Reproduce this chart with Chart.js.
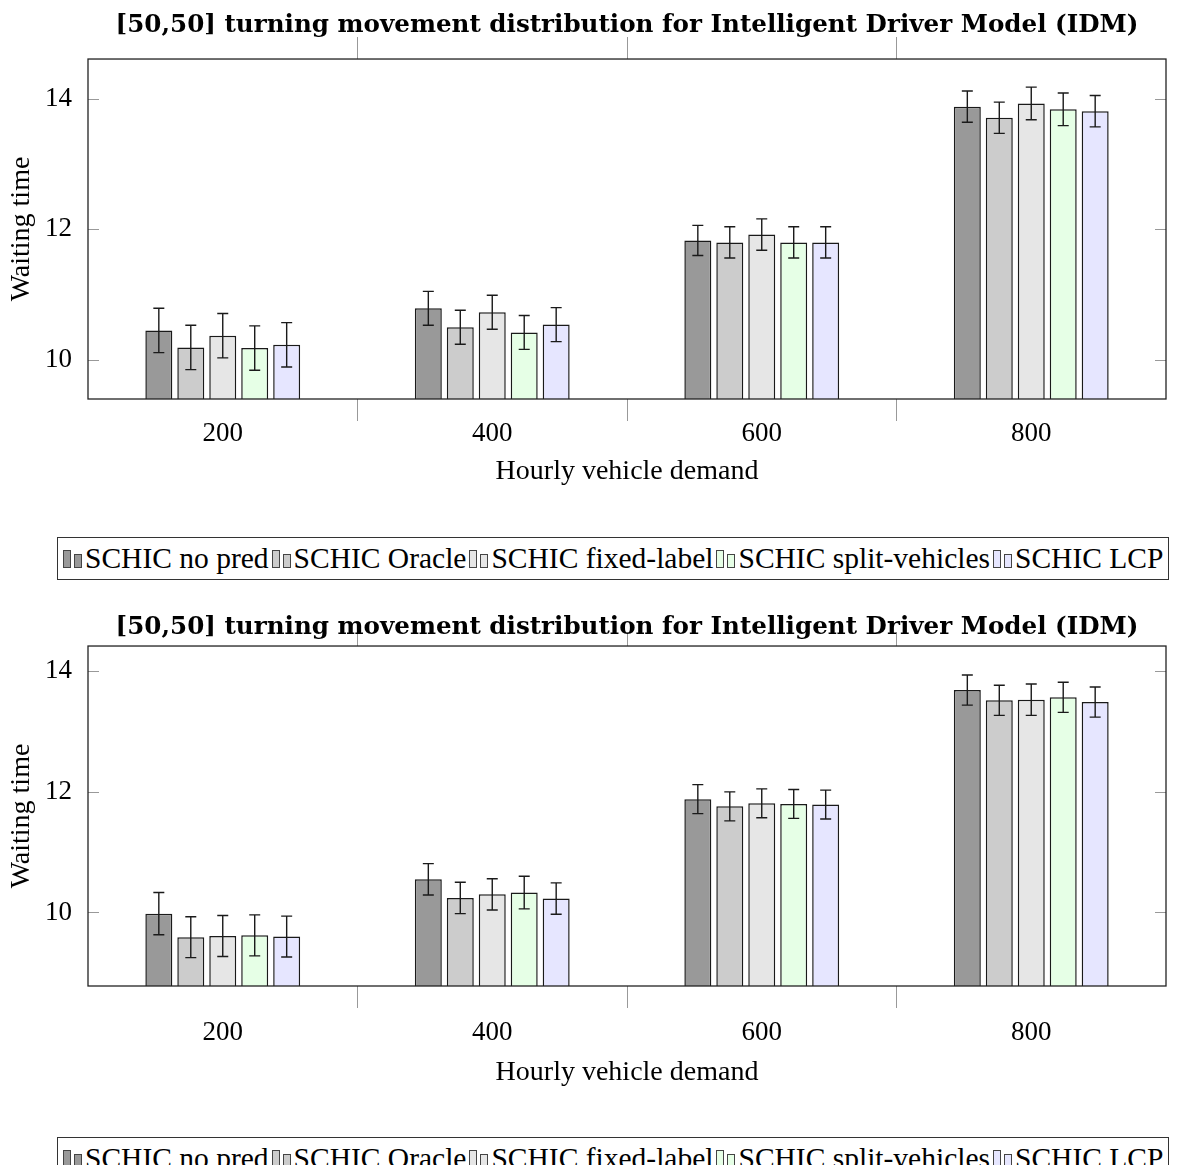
<!DOCTYPE html>
<html>
<head>
<meta charset="utf-8">
<script src="https://cdn.jsdelivr.net/npm/chart.js@4.4.1/dist/chart.umd.min.js"></script>
<style>
    body { margin: 0; background: #fff; }
    #page { position: relative; width: 1196px; height: 1165px; overflow: hidden; }
    canvas { position: absolute; left: 0; }
    #c1 { top: 0; }
    #c2 { top: 600px; }
    .legend {
        position: absolute;
        left: 57px;
        border: 1px solid #333;
        padding: 4px 5px 5px 5px;
        font: 29.5px "Liberation Serif", serif;
        white-space: nowrap;
        line-height: 32px;
    }
    #legend1 { top: 537px; }
    #legend2 { top: 1137px; }
    .sw {
        display: inline-block;
        width: 6px;
        height: 16px;
        border: 1px solid #444;
        margin-right: 3px;
    }
    .sw.small { height: 12px; }
    .item + .item { margin-left: 3px; }
</style>
</head>
<body>
<div id="page">
    <canvas id="c1" width="1196" height="500"></canvas>
    <div class="legend" id="legend1"></div>
    <canvas id="c2" width="1196" height="500"></canvas>
    <div class="legend" id="legend2"></div>
</div>
<script>
// Categories and series
const demandLabels = ['200', '400', '600', '800'];
const seriesNames = ['SCHIC no pred', 'SCHIC Oracle', 'SCHIC fixed-label', 'SCHIC split-vehicles', 'SCHIC LCP'];
const seriesColors = ['#999999', '#cccccc', '#e6e6e6', '#e6ffe6', '#e6e6ff'];
const yTicks = [10, 12, 14];
const chartTitle = '[50,50] turning movement distribution for Intelligent Driver Model (IDM)';

// Upper plot: mean waiting time and error
const noPredA = [10.45, 10.79, 11.83, 13.88];
const oracleA = [10.19, 10.50, 11.80, 13.71];
const fixedA = [10.37, 10.73, 11.92, 13.93];
const splitA = [10.18, 10.42, 11.80, 13.84];
const lcpA = [10.23, 10.54, 11.80, 13.81];
const noPredAErr = [0.34, 0.26, 0.23, 0.24];
const oracleAErr = [0.34, 0.26, 0.24, 0.24];
const fixedAErr = [0.34, 0.26, 0.24, 0.25];
const splitAErr = [0.34, 0.26, 0.24, 0.25];
const lcpAErr = [0.34, 0.26, 0.24, 0.24];

// Lower plot
const noPredB = [9.98, 10.55, 11.88, 13.69];
const oracleB = [9.59, 10.24, 11.76, 13.52];
const fixedB = [9.61, 10.30, 11.81, 13.53];
const splitB = [9.62, 10.33, 11.80, 13.57];
const lcpB = [9.60, 10.23, 11.79, 13.49];
const noPredBErr = [0.35, 0.26, 0.24, 0.25];
const oracleBErr = [0.34, 0.26, 0.24, 0.25];
const fixedBErr = [0.34, 0.26, 0.24, 0.26];
const splitBErr = [0.34, 0.27, 0.24, 0.25];
const lcpBErr = [0.34, 0.26, 0.24, 0.25];

const serif = '"Liberation Serif", serif';

// Error bars, inward y ticks and the box around the plot
const plotDecor = {
    id: 'plotDecor',
    afterDatasetsDraw(chart) {
        const { ctx, chartArea: a, scales: { y } } = chart;
        ctx.save();
        ctx.strokeStyle = '#1a1a1a';
        ctx.lineWidth = 1.4;
        chart.data.datasets.forEach((ds, i) => {
            chart.getDatasetMeta(i).data.forEach((bar, j) => {
                const hi = y.getPixelForValue(ds.data[j] + ds.errors[j]);
                const lo = y.getPixelForValue(ds.data[j] - ds.errors[j]);
                ctx.beginPath();
                ctx.moveTo(bar.x, hi); ctx.lineTo(bar.x, lo);
                ctx.moveTo(bar.x - 5.5, hi); ctx.lineTo(bar.x + 5.5, hi);
                ctx.moveTo(bar.x - 5.5, lo); ctx.lineTo(bar.x + 5.5, lo);
                ctx.stroke();
            });
        });
        ctx.strokeStyle = '#999';
        ctx.lineWidth = 1;
        y.ticks.forEach((t, i) => {
            const py = Math.round(y.getPixelForTick(i)) + 0.5;
            ctx.beginPath();
            ctx.moveTo(a.left, py); ctx.lineTo(a.left + 11, py);
            ctx.moveTo(a.right - 11, py); ctx.lineTo(a.right, py);
            ctx.stroke();
        });
        ctx.strokeStyle = '#222';
        ctx.lineWidth = 1.3;
        ctx.strokeRect(a.left, a.top, a.right - a.left, a.bottom - a.top);
        ctx.restore();
    }
};

// only the tick marks between groups, not the ones on the frame edges
const betweenTicks = c => (c.type === 'tick' && c.index > 0) ? '#999' : 'rgba(0,0,0,0)';

function makeChart(id, values, errors, yMin, yMax, lay) {
    return new Chart(document.getElementById(id), {
        type: 'bar',
        data: {
            labels: demandLabels,
            datasets: seriesNames.map((name, i) => ({
                label: name,
                data: values[i],
                errors: errors[i],
                backgroundColor: seriesColors[i],
                borderColor: '#1a1a1a',
                borderWidth: 1.5,
                categoryPercentage: 0.593,
                barPercentage: 0.844
            }))
        },
        options: {
            responsive: false,
            animation: false,
            layout: { padding: { left: 0, right: 30, top: 0, bottom: 0 } },
            scales: {
                x: {
                    offset: true,
                    grid: { offset: true, drawOnChartArea: false, tickLength: 22, color: betweenTicks },
                    border: { display: false },
                    ticks: { color: '#000', padding: lay.tickPad, font: { family: serif, size: 27, lineHeight: 1 } },
                    title: {
                        display: true,
                        text: 'Hourly vehicle demand',
                        color: '#000',
                        font: { family: serif, size: 28, lineHeight: 1.2 },
                        padding: { top: 0, bottom: lay.xTitlePad }
                    },
                    afterFit: s => { s.height = lay.bottomH; }
                },
                x2: {
                    type: 'category',
                    position: 'top',
                    labels: demandLabels,
                    offset: true,
                    grid: { offset: true, drawOnChartArea: false, tickLength: lay.topTick, color: betweenTicks },
                    border: { display: false },
                    ticks: { display: false },
                    afterFit: s => { s.height = lay.topH; }
                },
                y: {
                    min: yMin,
                    max: yMax,
                    grid: { display: false },
                    border: { display: false },
                    afterBuildTicks: s => { s.ticks = yTicks.map(v => ({ value: v })); },
                    ticks: { color: '#000', padding: 8, font: { family: serif, size: 27 } },
                    title: {
                        display: true,
                        text: 'Waiting time',
                        color: '#000',
                        font: { family: serif, size: 28, lineHeight: 1.2 },
                        padding: { top: 5, bottom: 0 }
                    },
                    afterFit: s => { s.width = 88; }
                }
            },
            plugins: {
                legend: { display: false },
                tooltip: { enabled: false },
                title: {
                    display: true,
                    text: chartTitle,
                    fullSize: false,
                    color: '#000',
                    font: { family: '"DejaVu Serif", serif', weight: 'bold', size: 24.6, lineHeight: 1.2 },
                    padding: { top: lay.titleTop, bottom: 0 }
                }
            }
        },
        plugins: [plotDecor]
    });
}

function fillLegend(id) {
    document.getElementById(id).innerHTML = seriesNames.map((name, i) =>
        `<span class="item"><span class="sw" style="background:${seriesColors[i]}"></span>` +
        `<span class="sw small" style="background:${seriesColors[i]}"></span>${name}</span>`
    ).join('');
}

// title block is titleTop + 29.5, top axis box fills the rest down to the frame
makeChart('c1',
    [noPredA, oracleA, fixedA, splitA, lcpA],
    [noPredAErr, oracleAErr, fixedAErr, splitAErr, lcpAErr],
    9.40, 14.61,
    { titleTop: 11, topH: 18.5, topTick: 22, bottomH: 101, tickPad: -1, xTitlePad: 12 });

makeChart('c2',
    [noPredB, oracleB, fixedB, splitB, lcpB],
    [noPredBErr, oracleBErr, fixedBErr, splitBErr, lcpBErr],
    8.78, 14.42,
    { titleTop: 12.5, topH: 4, topTick: 14, bottomH: 114, tickPad: 11.5, xTitlePad: 11 });

fillLegend('legend1');
fillLegend('legend2');
</script>
</body>
</html>
